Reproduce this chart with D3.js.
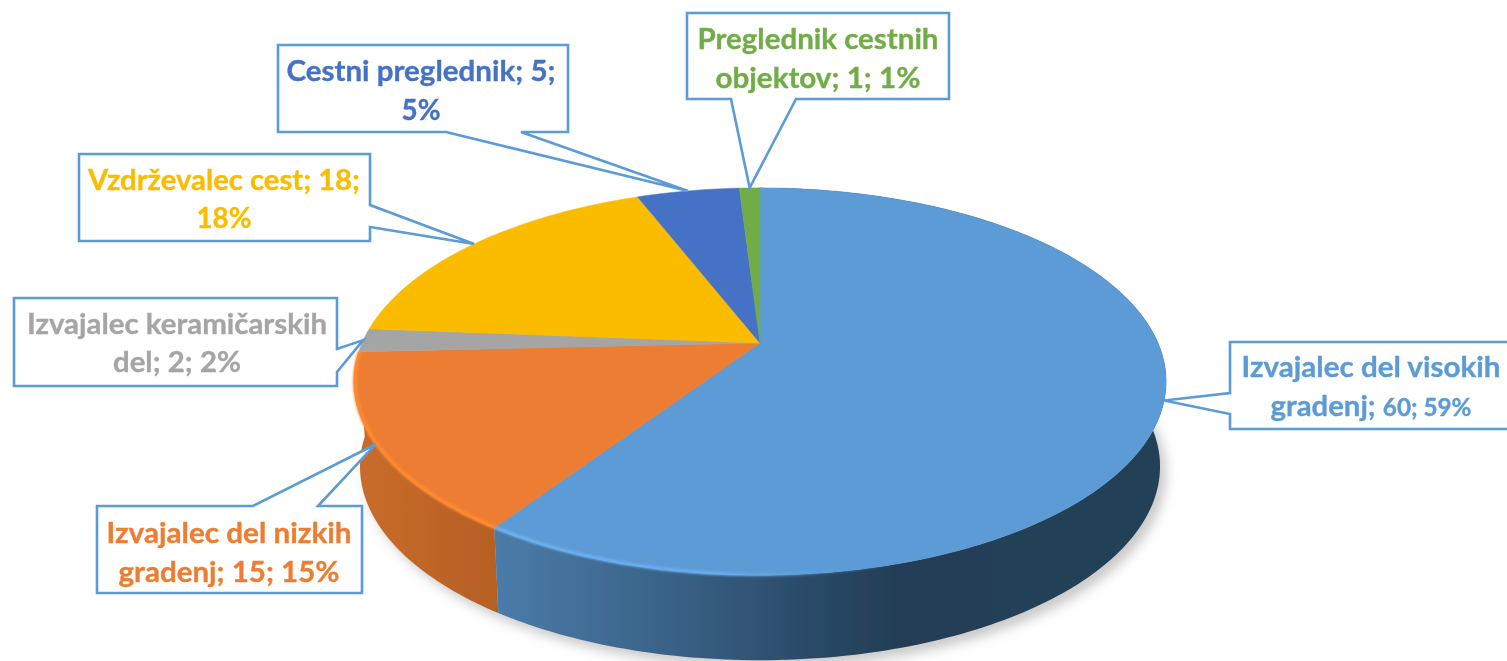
<!DOCTYPE html>
<html><head><meta charset="utf-8">
<script src="https://cdn.jsdelivr.net/npm/d3@7"></script>
<style>html,body{margin:0;background:#fff;overflow:hidden}svg{display:block}text{font-family:Lato,sans-serif;font-weight:700}</style>
</head><body><svg id="c" width="1507" height="661"></svg>
<script>
const categories=["Izvajalec del visokih gradenj","Izvajalec del nizkih gradenj","Izvajalec keramičarskih del","Vzdrževalec cest","Cestni preglednik","Preglednik cestnih objektov"];
const values=[60,15,2,18,5,1];
const percents=[59,15,2,18,5,1];
const colors=["#5b9bd5","#ed7d31","#a5a5a5","#fbbc00","#4472c4","#70ad47"];
const firstLineWords=[3,3,2,3,3,2];

// layout of the callouts (not data): box, pointer base, baselines, text widths
const boxes=[
 {x0:1230,x1:1512,y0:342,y1:429,side:"left",b:[393,414],cx:1371,base:[377,416],w:[259,201],tail:24},
 {x0:97,x1:362,y0:506,y1:593,side:"top",b:[253,318],cx:229,base:[543,582],w:[245,221]},
 {x0:14,x1:337,y0:298,y1:386,side:"right",b:[349,372],cx:177,base:[334,372],w:[300,128]},
 {x0:79,x1:370,y0:154,y1:241,side:"right",b:[205,227],cx:224,base:[190,228],w:[272,55]},
 {x0:278,x1:568,y0:45,y1:132,side:"bottom",b:[446,521],cx:421,base:[81,120],w:[269,39]},
 {x0:687,x1:949,y0:13,y1:99,side:"bottom",b:[731,796],cx:818,base:[49,88],w:[241,205]}
];

const cx=760,cy=343,a=398,b=186,k=0.199,depth=85,shrink=0.985;
const px=t=>cx+a*Math.sin(t)/(1+k*Math.cos(t));
const py=t=>cy-b*Math.cos(t)/(1+k*Math.cos(t));
const bx=t=>cx+(px(t)-cx)*shrink;
const by=t=>py(t)+depth;
const STEP=Math.PI/180;
const samples=(s,e)=>{const r=d3.range(s,e,STEP);r.push(e);return r;};

const pie=d3.pie().sort(null).value(d=>d);
const arcs=pie(values);
const line=d3.line();
const svg=d3.select("#c");
const defs=svg.append("defs");

const soft=defs.append("filter").attr("id","soft").attr("filterUnits","userSpaceOnUse").attr("x",0).attr("y",0).attr("width",1507).attr("height",700);
soft.append("feGaussianBlur").attr("stdDeviation",0.7);
const sh=defs.append("filter").attr("id","sh").attr("x","-10%").attr("y","-10%").attr("width","120%").attr("height","130%");
sh.append("feGaussianBlur").attr("stdDeviation",6);
const rimBlur=defs.append("filter").attr("id","rim").attr("filterUnits","userSpaceOnUse").attr("x",0).attr("y",0).attr("width",1507).attr("height",700);
rimBlur.append("feGaussianBlur").attr("stdDeviation",1);

function grad(id,stops,x1,x2){
 const g=defs.append("linearGradient").attr("id",id).attr("gradientUnits","userSpaceOnUse")
  .attr("x1",x1).attr("x2",x2).attr("y1",0).attr("y2",0);
 stops.forEach(([o,c,op])=>{const s=g.append("stop").attr("offset",o).attr("stop-color",c);if(op!==undefined)s.attr("stop-opacity",op);});
}
grad("wallBlue",[[0,"#4a7ba9"],[0.35,"#396286"],[0.62,"#2a4a68"],[0.8,"#233d55"],[1,"#243f56"]],497,1000);
grad("wallOrange",[[0,"#c96c2a"],[1,"#b55f24"]],360,500);
grad("rimBlue",[[0,"#6fb2f2"],[0.55,"#69adee"],[1,"#5b9bd5",0]],497,900);

const g=svg.append("g").attr("filter","url(#soft)");
const all=samples(0,2*Math.PI);

// soft ground shadow
g.append("path").attr("d",line(all.map(t=>[bx(t)+6,by(t)+7]))+"Z").attr("fill","#c9c9c9").attr("filter","url(#sh)");

// side wall of the two front slices
const wallFill=["url(#wallBlue)","url(#wallOrange)"];
[arcs[1],arcs[0]].forEach(d=>{
 const ts=samples(d.startAngle,d.endAngle);
 const pts=ts.map(t=>[px(t),py(t)]).concat(ts.slice().reverse().map(t=>[bx(t),by(t)]));
 g.append("path").attr("d",line(pts)+"Z").attr("fill",wallFill[d.index]);
});

// top faces
g.selectAll("path.face").data(arcs).join("path").attr("class","face")
 .attr("d",d=>line([[cx,cy]].concat(samples(d.startAngle,d.endAngle).map(t=>[px(t),py(t)])))+"Z")
 .attr("fill",d=>colors[d.index]).attr("stroke",d=>colors[d.index]).attr("stroke-width",0.5);

// bevel highlight along the front edge
const inset=(t)=>[cx+(px(t)-cx)*0.997,cy+(py(t)-cy)*0.997];
g.append("path").attr("d",line(samples(arcs[0].endAngle-1.35,arcs[0].endAngle).map(inset))).attr("fill","none")
 .attr("stroke","url(#rimBlue)").attr("stroke-width",3.5).attr("filter","url(#rim)");
g.append("path").attr("d",line(samples(arcs[1].startAngle,arcs[1].endAngle).map(inset))).attr("fill","none")
 .attr("stroke","#ff8a33").attr("stroke-width",4).attr("filter","url(#rim)");

// callouts
const tip=d=>{const t=(d.startAngle+d.endAngle)/2;return [px(t),py(t)];};
function callout(r,tp){
 const {x0,x1,y0,y1,side,b:q}=r;
 let pts;
 if(side==="left")pts=[[x0,y0],[x1,y0],[x1,y1],[x0,y1],[x0,q[1]],tp,[x0,q[0]]];
 if(side==="right")pts=[[x0,y0],[x1,y0],[x1,q[0]],tp,[x1,q[1]],[x1,y1],[x0,y1]];
 if(side==="top")pts=[[x0,y0],[q[0],y0],tp,[q[1],y0],[x1,y0],[x1,y1],[x0,y1]];
 if(side==="bottom")pts=[[x0,y0],[x1,y0],[x1,y1],[q[1],y1],tp,[q[0],y1],[x0,y1]];
 return line(pts)+"Z";
}
const callGroup=g.append("g");
callGroup.selectAll("path").data(arcs).join("path")
 .attr("d",d=>callout(boxes[d.index],tip(d)))
 .attr("fill","#fff").attr("stroke","#5b9bd5").attr("stroke-width",2.6);

arcs.forEach(d=>{
 const i=d.index,r=boxes[i];
 const words=`${categories[i]}; ${values[i]}; ${percents[i]}%`.split(" ");
 const lines=[words.slice(0,firstLineWords[i]).join(" "),words.slice(firstLineWords[i]).join(" ")];
 lines.forEach((s,j)=>{
  const t=callGroup.append("text").attr("x",r.cx).attr("y",r.base[j]).attr("text-anchor","middle")
   .attr("font-size",29).attr("fill",colors[i]).attr("stroke",colors[i]).attr("stroke-width",0.35)
   .attr("textLength",r.w[j]).attr("lengthAdjust","spacingAndGlyphs");
  if(j===1&&r.tail){
   const parts=s.split(" ");
   t.append("tspan").text(parts[0]+" ");
   t.append("tspan").attr("font-size",r.tail).text(parts.slice(1).join(" "));
  } else t.text(s);
 });
});
</script></body></html>
